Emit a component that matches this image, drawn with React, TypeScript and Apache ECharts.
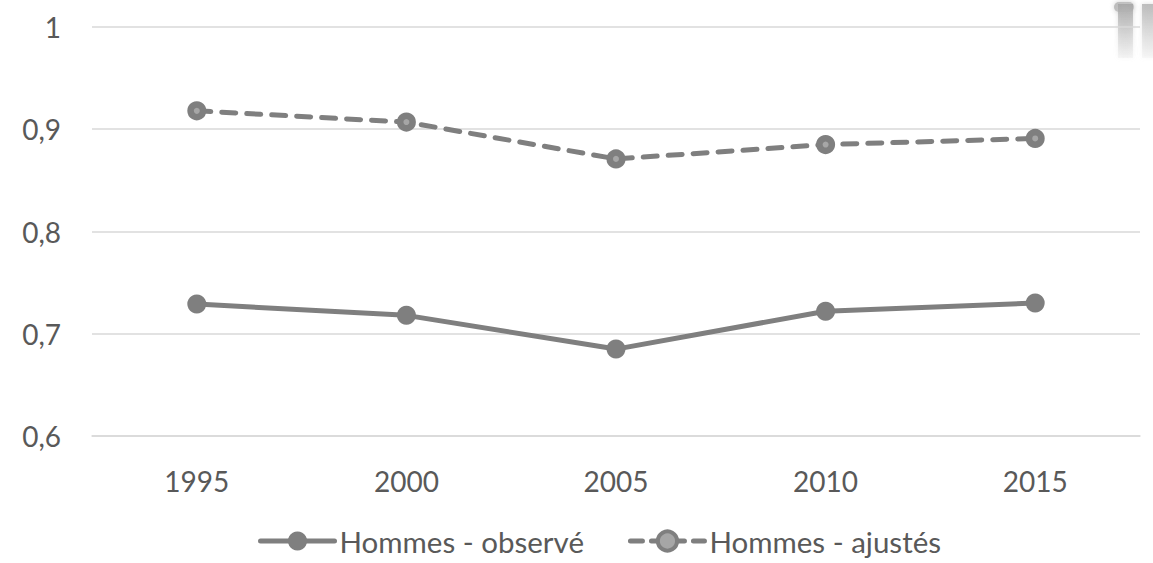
import React, { useEffect, useRef } from "react";
import * as echarts from "echarts";

const years = ["1995", "2000", "2005", "2010", "2015"];
const observed = [0.729, 0.718, 0.685, 0.722, 0.73];
const adjusted = [0.918, 0.907, 0.871, 0.885, 0.891];
const seriesNames = ["Hommes - observé", "Hommes - ajustés"];

const FONT = "Lato, 'Open Sans', sans-serif";
const TXT = "#595959";
const GREY = "#7f7f7f";

export default function App() {
  const ref = useRef<HTMLDivElement>(null);
  useEffect(() => {
    if (!ref.current) return;
    const chart = echarts.init(ref.current, undefined, { renderer: "svg" });
    chart.setOption({
      animation: false,
      backgroundColor: "#ffffff",
      grid: { left: 92, right: 13, top: 27, bottom: 127, containLabel: false },
      xAxis: {
        type: "category",
        data: years,
        boundaryGap: true,
        axisLine: { show: true, lineStyle: { color: "#d9d9d9", width: 1.5 } },
        axisTick: { show: false },
        axisLabel: { color: TXT, fontSize: 28, fontFamily: FONT, margin: 31 },
      },
      yAxis: {
        type: "value",
        min: 0.6,
        max: 1,
        interval: 0.1,
        axisLine: { show: false },
        axisTick: { show: false },
        splitLine: { lineStyle: { color: "#d9d9d9", width: 1.5 } },
        axisLabel: {
          color: TXT,
          fontSize: 28,
          fontFamily: FONT,
          margin: 31,
          formatter: (v: number) => (Math.round(v * 10) / 10).toString().replace(".", ","),
        },
      },
      legend: {
        bottom: 2,
        left: 253,
        itemWidth: 74,
        itemHeight: 24,
        itemGap: 44,
        textStyle: { color: TXT, fontSize: 29.5, fontFamily: FONT },
        data: [
          {
            name: seriesNames[0],
            lineStyle: { width: 5, color: GREY, cap: "round" },
          },
          {
            name: seriesNames[1],
            itemStyle: { color: "#a6a6a6", borderColor: GREY, borderWidth: 4 },
            lineStyle: { width: 5, color: GREY, type: [12, 9], cap: "round" },
          },
        ],
      },
      series: [
        {
          name: seriesNames[0],
          type: "line",
          data: observed,
          symbol: "circle",
          symbolSize: 19,
          itemStyle: { color: GREY },
          lineStyle: { color: GREY, width: 5, cap: "round" },
        },
        {
          name: seriesNames[1],
          type: "line",
          data: adjusted,
          symbol: "circle",
          symbolSize: 12.5,
          itemStyle: { color: "#a6a6a6", borderColor: GREY, borderWidth: 6.5 },
          lineStyle: { color: GREY, width: 5, type: [14, 11], cap: "round" },
        },
      ],
      graphic: [
        {
          type: "group",
          left: 1114,
          top: 2,
          silent: true,
          children: [
            {
              type: "rect",
              shape: { x: 0, y: 0, width: 20, height: 10, r: 5 },
              style: { fill: "rgba(175,175,175,0.8)", shadowBlur: 5, shadowColor: "#c8c8c8" },
            },
            {
              type: "rect",
              shape: { x: 4, y: 2, width: 15, height: 54 },
              style: {
                fill: new echarts.graphic.LinearGradient(0, 0, 0, 1, [
                  { offset: 0, color: "rgba(165,165,165,0.9)" },
                  { offset: 1, color: "rgba(210,210,210,0.15)" },
                ]),
                shadowBlur: 5,
                shadowColor: "#d0d0d0",
              },
            },
            {
              type: "rect",
              shape: { x: 28, y: 2, width: 14, height: 54 },
              style: {
                fill: new echarts.graphic.LinearGradient(0, 0, 0, 1, [
                  { offset: 0, color: "rgba(180,180,180,0.85)" },
                  { offset: 1, color: "rgba(220,220,220,0.15)" },
                ]),
                shadowBlur: 5,
                shadowColor: "#d8d8d8",
              },
            },
          ],
        },
      ],
    });
    return () => chart.dispose();
  }, []);
  return (
    <div
      ref={ref}
      style={{ position: "fixed", left: 0, top: 0, width: 1153, height: 563, background: "#fff" }}
    />
  );
}
